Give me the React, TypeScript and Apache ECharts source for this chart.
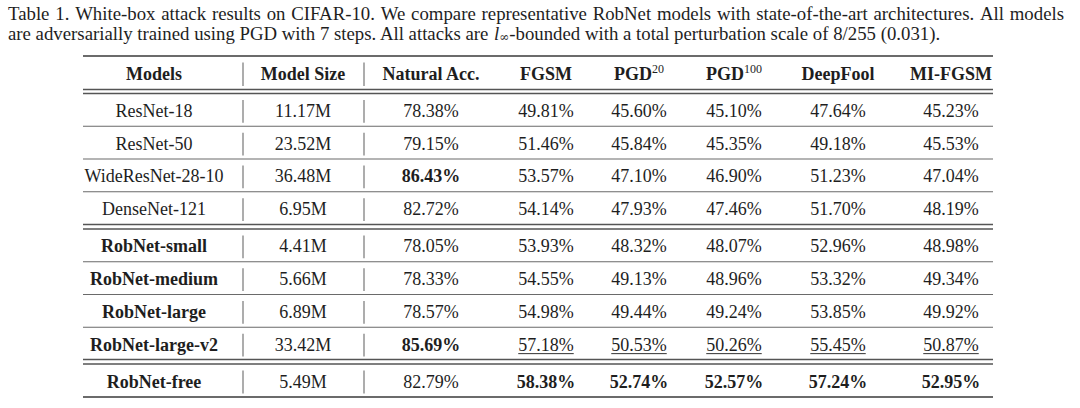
import React, { useEffect, useRef } from 'react';
import * as echarts from 'echarts';

const captionLine1 =
  'Table 1. White-box attack results on CIFAR-10. We compare representative RobNet models with state-of-the-art architectures. All models';
const captionLine2Before = 'are adversarially trained using PGD with 7 steps. All attacks are ';
const captionNormVar = 'l';
const captionNormSub = '∞';
const captionLine2After = '-bounded with a total perturbation scale of 8/255 (0.031).';

const headers = ['Models', 'Model Size', 'Natural Acc.', 'FGSM', 'PGD', 'PGD', 'DeepFool', 'MI-FGSM'];
const headerSups = ['', '', '', '', '20', '100', '', ''];

const models = [
  'ResNet-18', 'ResNet-50', 'WideResNet-28-10', 'DenseNet-121',
  'RobNet-small', 'RobNet-medium', 'RobNet-large', 'RobNet-large-v2', 'RobNet-free',
];
const modelSizes = ['11.17M', '23.52M', '36.48M', '6.95M', '4.41M', '5.66M', '6.89M', '33.42M', '5.49M'];
const naturalAcc = ['78.38%', '79.15%', '86.43%', '82.72%', '78.05%', '78.33%', '78.57%', '85.69%', '82.79%'];
const fgsm = ['49.81%', '51.46%', '53.57%', '54.14%', '53.93%', '54.55%', '54.98%', '57.18%', '58.38%'];
const pgd20 = ['45.60%', '45.84%', '47.10%', '47.93%', '48.32%', '49.13%', '49.44%', '50.53%', '52.74%'];
const pgd100 = ['45.10%', '45.35%', '46.90%', '47.46%', '48.07%', '48.96%', '49.24%', '50.26%', '52.57%'];
const deepFool = ['47.64%', '49.18%', '51.23%', '51.70%', '52.96%', '53.32%', '53.85%', '55.45%', '57.24%'];
const miFgsm = ['45.23%', '45.53%', '47.04%', '48.19%', '48.98%', '49.34%', '49.92%', '50.87%', '52.95%'];

// [row, column] cells rendered in bold / underlined
const boldCells: [number, number][] = [
  [2, 2], [7, 2], [8, 3], [8, 4], [8, 5], [8, 6], [8, 7],
];
const underlineCells: [number, number][] = [[7, 3], [7, 4], [7, 5], [7, 6], [7, 7]];
const boldModelRows = [4, 5, 6, 7, 8];
// row groups (rows separated by double rules)
const rowGroups = [[0, 1, 2, 3], [4, 5, 6, 7], [8]];

// ---- layout ----
const FONT = '"Liberation Serif", "Times New Roman", serif';
const TEXT = '#1e1e1e';
const CAP_SIZE = 18.8;
const capLeft = 8;
const capRight = 1064;
const colCenters = [154, 303, 431, 546, 639, 734, 838, 951];
const barXs = [243, 364];
const tableLeft = 83;
const tableRight = 993;
const headerTop = 56;
const headerBottom = 89.5;
const groupTops = [93.5, 229, 364];
const rowH = 32.75;
const lastRowH = 33;
const gap = 4.5;

function measure(text: string, size: number, weight: string) {
  const c = document.createElement('canvas').getContext('2d')!;
  c.font = `${weight} ${size}px ${FONT}`;
  return c.measureText(text).width;
}

export default function App() {
  const ref = useRef<HTMLDivElement>(null);
  useEffect(() => {
    if (!ref.current) return;
    const chart = echarts.init(ref.current, undefined, { renderer: 'svg' });
    const cols = [models, modelSizes, naturalAcc, fgsm, pgd20, pgd100, deepFool, miFgsm];
    const els: any[] = [];
    const hline = (y: number, color: string, w: number) =>
      els.push({ type: 'line', shape: { x1: tableLeft, y1: y, x2: tableRight, y2: y }, style: { stroke: color, lineWidth: w } });
    const vbars = (top: number, bottom: number) =>
      barXs.forEach((x) =>
        els.push({ type: 'line', shape: { x1: x, y1: top + 6.5, x2: x, y2: bottom - 3.5 }, style: { stroke: '#8a8a8a', lineWidth: 1.4 } })
      );
    const txt = (x: number, y: number, text: string, bold: boolean, size = 18) =>
      els.push({
        type: 'text', x, y,
        style: {
          text, fill: TEXT, fontSize: size, fontFamily: FONT, fontWeight: bold ? 'bold' : 'normal',
          align: 'center', verticalAlign: 'middle', textAlign: 'center', textVerticalAlign: 'middle',
        },
      });

    // caption line 1 (justified)
    const words = captionLine1.split(' ');
    const widths = words.map((w) => measure(w, CAP_SIZE, 'normal'));
    const total = widths.reduce((a, b) => a + b, 0);
    const space = (capRight - capLeft - total) / (words.length - 1);
    let cx = capLeft;
    words.forEach((w, i) => {
      els.push({
        type: 'text', x: cx, y: 13,
        style: { text: w, fill: TEXT, fontSize: CAP_SIZE, fontFamily: FONT, align: 'left', verticalAlign: 'middle', textAlign: 'left', textVerticalAlign: 'middle' },
      });
      cx += widths[i] + space;
    });
    els.push({
      type: 'text', x: capLeft, y: 33,
      style: {
        text: `{n|${captionLine2Before}}{i|${captionNormVar}}{s|${captionNormSub}}{n|${captionLine2After}}`,
        align: 'left', verticalAlign: 'middle', textAlign: 'left', textVerticalAlign: 'middle',
        rich: {
          n: { fontSize: CAP_SIZE, fontFamily: FONT, fill: TEXT, lineHeight: 20 },
          i: { fontSize: CAP_SIZE, fontFamily: FONT, fontStyle: 'italic', fill: TEXT, lineHeight: 20 },
          s: { fontSize: 12, fontFamily: 'DejaVu Serif', fill: TEXT, lineHeight: 12, verticalAlign: 'bottom' },
        },
      },
    });

    // rules
    hline(headerTop, '#3a3a3a', 1.6);
    hline(headerBottom, '#555', 1.3);
    groupTops.forEach((gt, gi) => {
      if (gi > 0) hline(gt - gap, '#555', 1.3);
      hline(gt, '#555', 1.3);
    });

    // header
    const hy = (headerTop + headerBottom) / 2 + 1;
    vbars(headerTop, headerBottom);
    headers.forEach((h, c) => {
      if (headerSups[c]) {
        els.push({
          type: 'text', x: colCenters[c], y: hy,
          style: {
            text: `{h|${h}}{s|${headerSups[c]}}`,
            align: 'center', verticalAlign: 'middle', textAlign: 'center', textVerticalAlign: 'middle',
            rich: {
              h: { fontSize: 18, fontFamily: FONT, fontWeight: 'bold', fill: TEXT, lineHeight: 21 },
              s: { fontSize: 12, fontFamily: FONT, fill: TEXT, lineHeight: 12, verticalAlign: 'top' },
            },
          },
        });
      } else {
        txt(colCenters[c], hy, h, true);
      }
    });

    // body
    rowGroups.forEach((rows, gi) => {
      rows.forEach((r, k) => {
        const h = gi === 2 ? lastRowH : rowH;
        const top = groupTops[gi] + k * rowH;
        const bottom = top + h;
        if (k < rows.length - 1) hline(bottom, '#6a6a6a', 1.2);
        else if (gi === rowGroups.length - 1) hline(bottom, '#3a3a3a', 1.6);
        vbars(top, bottom);
        const y = (top + bottom) / 2 + 1;
        cols.forEach((col, c) => {
          const bold =
            (c === 0 && boldModelRows.includes(r)) || boldCells.some(([br, bc]) => br === r && bc === c);
          txt(colCenters[c], y, col[r], bold);
          if (underlineCells.some(([ur, uc]) => ur === r && uc === c)) {
            const w = measure(col[r], 18, bold ? 'bold' : 'normal');
            els.push({
              type: 'line',
              shape: { x1: colCenters[c] - w / 2, y1: y + 9, x2: colCenters[c] + w / 2, y2: y + 9 },
              style: { stroke: '#333', lineWidth: 1 },
            });
          }
        });
      });
    });

    chart.setOption({ animation: false, backgroundColor: '#ffffff', graphic: { elements: els } });
    return () => chart.dispose();
  }, []);
  return <div ref={ref} style={{ position: 'absolute', left: 0, top: 0, width: 1080, height: 408, background: '#fff' }} />;
}
